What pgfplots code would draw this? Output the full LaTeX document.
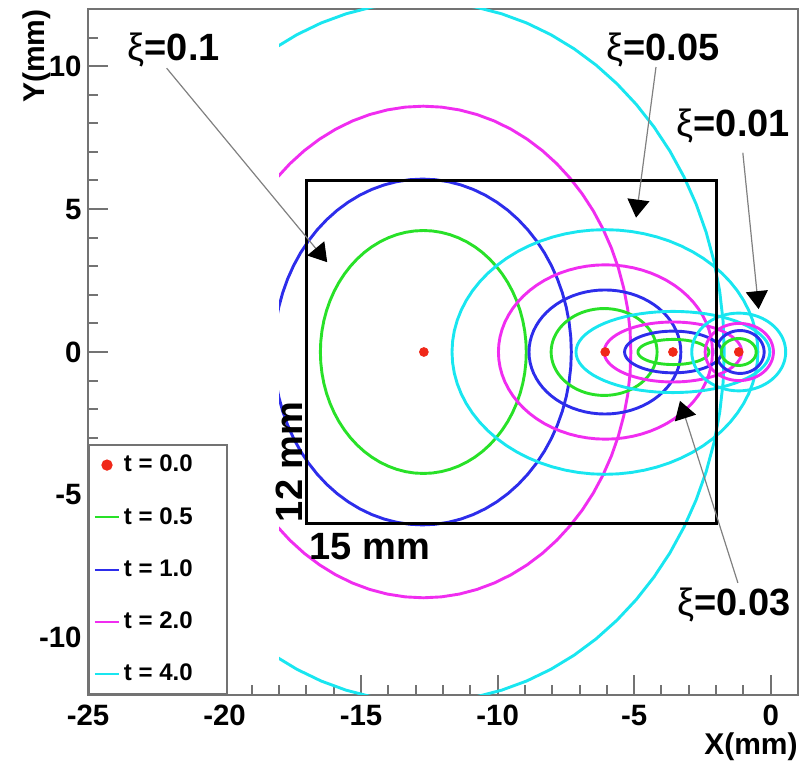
\documentclass[border=0pt]{standalone}
\usepackage{fontspec}
\setmainfont{Liberation Sans}
\usepackage{pgfplots}
\usepackage{pgfplotstable}
\pgfplotsset{compat=1.18}
\usetikzlibrary{arrows.meta}

\definecolor{rgreen}{RGB}{40,225,40}
\definecolor{rblue}{RGB}{45,45,235}
\definecolor{rmagenta}{RGB}{240,45,240}
\definecolor{rcyan}{RGB}{25,230,240}
\definecolor{rred}{RGB}{240,40,25}

% unit circle, 5 degree steps (cos, sin)
\pgfplotstableread{
c s
1 0
0.9962 0.0872
0.9848 0.1736
0.9659 0.2588
0.9397 0.3420
0.9063 0.4226
0.8660 0.5
0.8192 0.5736
0.7660 0.6428
0.7071 0.7071
0.6428 0.7660
0.5736 0.8192
0.5 0.8660
0.4226 0.9063
0.3420 0.9397
0.2588 0.9659
0.1736 0.9848
0.0872 0.9962
0 1
-0.0872 0.9962
-0.1736 0.9848
-0.2588 0.9659
-0.3420 0.9397
-0.4226 0.9063
-0.5 0.8660
-0.5736 0.8192
-0.6428 0.7660
-0.7071 0.7071
-0.7660 0.6428
-0.8192 0.5736
-0.8660 0.5
-0.9063 0.4226
-0.9397 0.3420
-0.9659 0.2588
-0.9848 0.1736
-0.9962 0.0872
-1 0
-0.9962 -0.0872
-0.9848 -0.1736
-0.9659 -0.2588
-0.9397 -0.3420
-0.9063 -0.4226
-0.8660 -0.5
-0.8192 -0.5736
-0.7660 -0.6428
-0.7071 -0.7071
-0.6428 -0.7660
-0.5736 -0.8192
-0.5 -0.8660
-0.4226 -0.9063
-0.3420 -0.9397
-0.2588 -0.9659
-0.1736 -0.9848
-0.0872 -0.9962
0 -1
0.0872 -0.9962
0.1736 -0.9848
0.2588 -0.9659
0.3420 -0.9397
0.4226 -0.9063
0.5 -0.8660
0.5736 -0.8192
0.6428 -0.7660
0.7071 -0.7071
0.7660 -0.6428
0.8192 -0.5736
0.8660 -0.5
0.9063 -0.4226
0.9397 -0.3420
0.9659 -0.2588
0.9848 -0.1736
0.9962 -0.0872
1 0
}\unitcircle

% ellipse: centre x, semi-axis x, semi-axis y, colour
\newcommand{\ellipseplot}[4]{%
  \addplot[#4, line width=1.45pt, line join=round, line cap=round, forget plot]
    table[x expr={#1+#2*\thisrow{c}}, y expr={#3*\thisrow{s}}] {\unitcircle};}

\begin{document}
\begin{tikzpicture}
\begin{axis}[
  scale only axis, width=355pt, height=343pt,
  xmin=-25, xmax=1, ymin=-12, ymax=12,
  axis line style={black!55, line width=1pt},
  xtick={-25,-20,-15,-10,-5,0}, xticklabels={-25,-20,-15,-10,-5,0},
  ytick={-10,-5,0,5,10}, yticklabels={-10,-5,0,5,10},
  minor xtick={-24,-23,...,0},
  minor ytick={-11,-10,...,11},
  xtick pos=bottom, ytick pos=left, tick align=inside,
  major tick length=10pt, minor tick length=5pt,
  every tick/.style={black!55, line width=1pt},
  tick label style={font=\bfseries\fontsize{14.7}{16}\selectfont, inner sep=0pt},
  xticklabel style={yshift=-5pt},
  yticklabel style={xshift=-3pt},
  clip mode=individual,
  legend image code/.code={\draw[#1] (0pt,0pt) -- (12pt,0pt);},
  legend style={at={(0,0)}, anchor=south west, draw=black!55, line width=1pt,
    inner xsep=2.5pt, inner ysep=3pt, row sep=12.25pt,
    font=\bfseries\fontsize{12}{14}\selectfont,
    nodes={inner sep=2pt}},
  legend cell align=left,
]
\begin{scope}
\clip (axis cs:-18,-12) rectangle (axis cs:1,12);
% xi = 0.1
\ellipseplot{-12.72}{3.77}{4.25}{rgreen}
\ellipseplot{-12.75}{5.45}{6.05}{rblue}
\ellipseplot{-12.72}{7.6}{8.6}{rmagenta}
\ellipseplot{-12.7}{11.0}{12.25}{rcyan}
% xi = 0.05
\ellipseplot{-6.1}{1.94}{1.52}{rgreen}
\ellipseplot{-6.07}{2.78}{2.17}{rblue}
\ellipseplot{-6.05}{3.92}{3.05}{rmagenta}
\ellipseplot{-6.07}{5.6}{4.28}{rcyan}
% xi = 0.03
\ellipseplot{-3.56}{1.3}{0.44}{rgreen}
\ellipseplot{-3.57}{1.78}{0.73}{rblue}
\ellipseplot{-3.58}{2.52}{1.05}{rmagenta}
\ellipseplot{-3.58}{3.55}{1.42}{rcyan}
% xi = 0.01
\ellipseplot{-1.17}{0.64}{0.47}{rgreen}
\ellipseplot{-1.12}{0.88}{0.75}{rblue}
\ellipseplot{-1.15}{1.25}{1.0}{rmagenta}
\ellipseplot{-1.17}{1.72}{1.36}{rcyan}
\end{scope}

% 15 mm x 12 mm box
\addplot[black, line width=1.5pt, line join=miter, forget plot]
  coordinates {(-17,-6) (-2,-6) (-2,6) (-17,6) (-17,-6) (-2,-6)};

% source points (t = 0)
\addplot[only marks, mark=*, mark size=2.2pt, rred, forget plot]
  coordinates {(-12.7,0) (-6.06,0) (-3.58,0) (-1.17,0)};

\addlegendimage{legend image code/.code={\fill[rred] (6pt,0pt) circle (2.3pt);}}
\addlegendentry{\makebox[47pt][l]{t = 0.0}}
\addlegendimage{draw=rgreen, line width=1pt}
\addlegendentry{\makebox[47pt][l]{t = 0.5}}
\addlegendimage{draw=rblue, line width=1pt}
\addlegendentry{\makebox[47pt][l]{t = 1.0}}
\addlegendimage{draw=rmagenta, line width=1pt}
\addlegendentry{\makebox[47pt][l]{t = 2.0}}
\addlegendimage{draw=rcyan, line width=1pt}
\addlegendentry{\makebox[47pt][l]{t = 4.0}}

% box labels
\node[anchor=north west, inner sep=0pt, font=\bfseries\fontsize{19}{22}\selectfont]
  at ([xshift=1.5pt,yshift=-4.5pt]axis cs:-17,-6) {15 mm};
\node[rotate=90, anchor=south west, inner sep=0pt, font=\bfseries\fontsize{19}{22}\selectfont]
  at ([xshift=-2pt,yshift=0.5pt]axis cs:-17,-6) {12 mm};

% annotations
\tikzset{annot/.style={anchor=base, inner sep=0pt, font=\bfseries\fontsize{19}{22}\selectfont},
  parrow/.style={black!50, line width=0.6pt, -{Triangle[length=9pt,width=11pt,color=black]}}}
\node[annot] at (axis cs:-21.86,10.21) {{\mdseries ξ}=0.1};
\draw[parrow] (axis cs:-22.12,9.93) -- (axis cs:-16.24,3.14);
\node[annot] at (axis cs:-3.94,10.21) {{\mdseries ξ}=0.05};
\draw[parrow] (axis cs:-4.20,9.97) -- (axis cs:-4.93,4.70);
\node[annot] at (axis cs:-1.37,7.53) {{\mdseries ξ}=0.01};
\draw[parrow] (axis cs:-1.02,6.97) -- (axis cs:-0.44,1.50);
\node[annot] at (axis cs:-1.35,-9.23) {{\mdseries ξ}=0.03};
\draw[parrow] (axis cs:-1.20,-8.08) -- (axis cs:-3.32,-1.71);
\end{axis}
\node[anchor=base east, inner sep=0pt, font=\bfseries\fontsize{15}{17}\selectfont] at (355pt,-30pt) {X(mm)};
\node[rotate=90, anchor=base east, inner sep=0pt, font=\bfseries\fontsize{15}{17}\selectfont] at (-21.5pt,343pt) {Y(mm)};
\pgfresetboundingbox
\path[use as bounding box] (-44pt,-34.5pt) rectangle (356pt,347.5pt);
\end{tikzpicture}
\end{document}
